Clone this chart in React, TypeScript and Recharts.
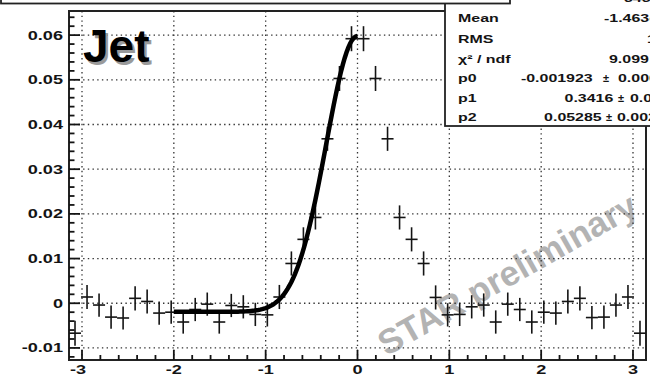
import React from 'react';
import {
  ComposedChart,
  Scatter,
  Line,
  XAxis,
  YAxis,
  CartesianGrid,
  ErrorBar,
  ReferenceArea,
} from 'recharts';

// Δφ histogram (48 bins over [-π, π]) with a Gaussian + constant fit on the near side.
const PHI_MIN = -Math.PI;
const PHI_MAX = Math.PI;
const Y_MIN = -0.0127;
const Y_MAX = 0.0654;

const binCenters = [
  -3.0761, -2.9452, -2.8143, -2.6834, -2.5525, -2.4216, -2.2907, -2.1598,
  -2.0289, -1.898, -1.7671, -1.6362, -1.5053, -1.3744, -1.2435, -1.1126,
  -0.9817, -0.8508, -0.7199, -0.589, -0.4581, -0.3272, -0.1963, -0.0654,
  0.0654, 0.1963, 0.3272, 0.4581, 0.589, 0.7199, 0.8508, 0.9817,
  1.1126, 1.2435, 1.3744, 1.5053, 1.6362, 1.7671, 1.898, 2.0289,
  2.1598, 2.2907, 2.4216, 2.5525, 2.6834, 2.8143, 2.9452, 3.0761,
];

const binValues = [
  -0.0067, 0.0014, -0.0004, -0.0031, -0.0033, 0.0011, 0.0004, -0.0022,
  -0.002, -0.0042, -0.0014, -0.0002, -0.0042, -0.0005, -0.0008, -0.0025,
  -0.0026, 0.0014, 0.0089, 0.0143, 0.0192, 0.0368, 0.0503, 0.0592,
  0.0592, 0.0503, 0.0368, 0.0192, 0.0143, 0.0089, 0.0013, -0.0026,
  -0.0025, -0.0008, -0.0004, -0.0042, -0.0002, -0.0014, -0.0042, -0.002,
  -0.0022, 0.0004, 0.0011, -0.0032, -0.0031, -0.0004, 0.0014, -0.0067,
];

const binErrors = [
  0.0028, 0.0027, 0.0026, 0.0026, 0.0026, 0.0027, 0.0027, 0.0026,
  0.0026, 0.0026, 0.0026, 0.0026, 0.0026, 0.0026, 0.0026, 0.0026,
  0.0026, 0.0027, 0.0027, 0.0027, 0.0027, 0.0027, 0.0028, 0.0028,
  0.0028, 0.0028, 0.0027, 0.0027, 0.0027, 0.0027, 0.0027, 0.0026,
  0.0026, 0.0026, 0.0026, 0.0026, 0.0026, 0.0026, 0.0026, 0.0026,
  0.0026, 0.0027, 0.0027, 0.0026, 0.0026, 0.0026, 0.0027, 0.0028,
];

const BIN_HALF_WIDTH = 0.06545;

// Fit result: p0 + p2 / (sqrt(2π) p1) · exp(-x² / 2p1²), drawn over [-2, 0]
const FIT_P0 = -0.001923;
const FIT_P1 = 0.3416;
const FIT_P2 = 0.05285;
const FIT_RANGE: [number, number] = [-2, 0];
const FIT_SAMPLES = 100;

const xMajorTicks = [-3, -2, -1, 0, 1, 2, 3];
const yMajorTicks = [-0.01, 0, 0.01, 0.02, 0.03, 0.04, 0.05, 0.06];

const statLabels = ['Mean', 'RMS', 'χ² / ndf', 'p0', 'p1', 'p2'];
const statValues = ['-1.463e-05', '1.816', '9.099 / 17', '-0.001923', '0.3416', '0.05285'];
const statErrors = ['', '', '', '0.000512', '0.0228', '0.002316'];
const entriesValue = '3456';

const histData = binCenters.map((x, i) => ({
  x,
  y: binValues[i],
  ey: binErrors[i],
  ex: BIN_HALF_WIDTH,
}));

const fitCurve = Array.from({ length: FIT_SAMPLES + 1 }, (_, i) => {
  const x = FIT_RANGE[0] + ((FIT_RANGE[1] - FIT_RANGE[0]) * i) / FIT_SAMPLES;
  const y =
    FIT_P0 +
    (FIT_P2 / (Math.sqrt(2 * Math.PI) * FIT_P1)) *
      Math.exp(-(x * x) / (2 * FIT_P1 * FIT_P1));
  return { x, y };
});

// Major ticks plus 4 minor ticks in each interval, kept inside the axis range
const withMinors = (majors: number[], lo: number, hi: number) => {
  const step = (majors[1] - majors[0]) / 5;
  const out: number[] = [];
  for (let k = -10; k <= (majors.length + 1) * 5; k++) {
    const v = +(majors[0] + k * step).toFixed(6);
    if (v > lo && v < hi) out.push(v);
  }
  return out;
};
const xAllTicks = withMinors(xMajorTicks, PHI_MIN, PHI_MAX);
const yAllTicks = withMinors(yMajorTicks, Y_MIN, Y_MAX);
const isMajor = (majors: number[], v: number) => majors.some((m) => Math.abs(m - v) < 1e-9);

const FONT = "'Liberation Sans', Arial, Helvetica, sans-serif";
const STRETCH = 1.45;
const INK = '#141414';
const X_TICK_MARGIN = 9;
const Y_TICK_MARGIN = 6;

// Bottom axis: tick marks point up into the frame, labels centred under major ticks
const XTick = (props: any) => {
  const { x, y, payload } = props;
  const v = payload.value as number;
  const major = isMajor(xMajorTicks, v);
  const base = y - X_TICK_MARGIN;
  const dx = Math.abs(v - xMajorTicks[0]) < 1e-9 ? -4 : 0;
  return (
    <g>
      <path d={`M${x},${base}V${base - (major ? 10 : 5)}`} stroke={INK} strokeWidth={1.8} fill="none" />
      {major && (
        <text
          transform={`translate(${x + dx},${y + 4.5}) scale(${STRETCH},1)`}
          textAnchor="middle"
          fontFamily={FONT}
          fontWeight="bold"
          fontSize={12.5}
          fill={INK}
        >
          {String(v)}
        </text>
      )}
    </g>
  );
};

// Left axis: tick marks point right into the frame, labels right-aligned
const YTick = (props: any) => {
  const { x, y, payload } = props;
  const v = payload.value as number;
  const major = isMajor(yMajorTicks, v);
  const base = x + Y_TICK_MARGIN;
  const label = Math.abs(v) < 1e-9 ? '0' : v.toFixed(2);
  return (
    <g>
      <path d={`M${base},${y}H${base + (major ? 11 : 5.5)}`} stroke={INK} strokeWidth={1.8} fill="none" />
      {major && (
        <text
          transform={`translate(${x},${y + 4.5}) scale(${STRETCH},1)`}
          textAnchor="end"
          fontFamily={FONT}
          fontWeight="bold"
          fontSize={12.5}
          fill={INK}
        >
          {label}
        </text>
      )}
    </g>
  );
};

const NoMarker = () => <g />;

const statBaselines = [21.7, 43.3, 63.2, 81.8, 101.6, 120.8];
// value placement: single values start at a column, fitted values end at a column
const statValueX = [604, 647, 609, 592.7, 613.3, 601.7];
const statPmX = [0, 0, 0, 603, 618, 606];
const statErrX = [0, 0, 0, 618, 630, 617];

const StatText = ({ x, y, children, anchor = 'start', stretch = STRETCH }: any) => (
  <text
    transform={`translate(${x},${y}) scale(${stretch},1)`}
    textAnchor={anchor}
    fontFamily={FONT}
    fontWeight="bold"
    fontSize={11}
    fill={INK}
  >
    {children}
  </text>
);

export default function App() {
  return (
    <div style={{ position: 'absolute', left: 0, top: 0, width: 650, height: 375, background: '#fff', overflow: 'hidden' }}>
      {/* watermark underneath the plot */}
      <svg width={650} height={375} style={{ position: 'absolute', left: 0, top: 0 }}>
        <text
          x={507}
          y={274}
          transform="rotate(-29.5 507 274)"
          textAnchor="middle"
          dominantBaseline="central"
          fontFamily={FONT}
          fontWeight="bold"
          fontSize={35}
          fill="#b3b3b3"
        >
          STAR preliminary
        </text>
      </svg>

      <div style={{ position: 'absolute', left: 0, top: 0 }}>
        <ComposedChart width={650} height={375} margin={{ top: 11, right: 4, bottom: 0, left: 0 }}>
          <XAxis
            xAxisId="x"
            dataKey="x"
            type="number"
            domain={[PHI_MIN, PHI_MAX]}
            allowDataOverflow
            ticks={xAllTicks}
            interval={0}
            tickLine={false}
            axisLine={false}
            tickSize={0}
            tickMargin={X_TICK_MARGIN}
            height={15}
            tick={<XTick />}
          />
          <YAxis
            yAxisId="y"
            dataKey="y"
            type="number"
            domain={[Y_MIN, Y_MAX]}
            allowDataOverflow
            ticks={yAllTicks}
            interval={0}
            tickLine={false}
            axisLine={false}
            tickSize={0}
            tickMargin={Y_TICK_MARGIN}
            width={69}
            tick={<YTick />}
          />
          <CartesianGrid
            xAxisId="x"
            yAxisId="y"
            verticalValues={xMajorTicks}
            horizontalValues={yMajorTicks}
            stroke="#333"
            strokeWidth={1.3}
            strokeDasharray="1.4 3.3"
          />
          <ReferenceArea
            xAxisId="x"
            yAxisId="y"
            x1={PHI_MIN}
            x2={PHI_MAX}
            y1={Y_MIN}
            y2={Y_MAX}
            fill="none"
            stroke="#222"
            strokeWidth={2}
            ifOverflow="visible"
          />
          <Scatter
            xAxisId="x"
            yAxisId="y"
            data={histData}
            dataKey="y"
            shape={<NoMarker />}
            isAnimationActive={false}
          >
            <ErrorBar dataKey="ey" direction="y" width={0} stroke={INK} strokeWidth={1.6} isAnimationActive={false} />
            <ErrorBar dataKey="ex" direction="x" width={0} stroke={INK} strokeWidth={1.6} isAnimationActive={false} />
          </Scatter>
          <Line
            xAxisId="x"
            yAxisId="y"
            data={fitCurve}
            dataKey="y"
            type="linear"
            stroke="#000"
            strokeWidth={4.5}
            dot={false}
            activeDot={false}
            isAnimationActive={false}
          />
        </ComposedChart>
      </div>

      {/* title pad, stats box and pad label */}
      <svg width={650} height={375} style={{ position: 'absolute', left: 0, top: 0, pointerEvents: 'none' }}>
        <rect x={445} y={-20} width={230} height={146} fill="#fff" stroke="#222" strokeWidth={1.8} />
        <StatText x={624} y={1.5}>{entriesValue}</StatText>
        {statLabels.map((lab, i) => (
          <StatText key={lab} x={458} y={statBaselines[i]}>{lab}</StatText>
        ))}
        {statValues.map((val, i) =>
          statErrors[i] ? (
            <g key={i}>
              <StatText x={statValueX[i]} y={statBaselines[i]} anchor="end">{val}</StatText>
              <StatText x={statPmX[i]} y={statBaselines[i]} stretch={1}>±</StatText>
              <StatText x={statErrX[i]} y={statBaselines[i]}>{statErrors[i]}</StatText>
            </g>
          ) : (
            <StatText key={i} x={statValueX[i]} y={statBaselines[i]}>{val}</StatText>
          )
        )}
        <rect x={1} y={-20} width={509} height={23.5} fill="#fff" stroke="#222" strokeWidth={1.8} />

        <text x={85.5} y={64.5} fontFamily={FONT} fontWeight="bold" fontSize={46} fill="#9a9a9a">Jet</text>
        <text x={83} y={62} fontFamily={FONT} fontWeight="bold" fontSize={46} fill="#000">Jet</text>
      </svg>
    </div>
  );
}
